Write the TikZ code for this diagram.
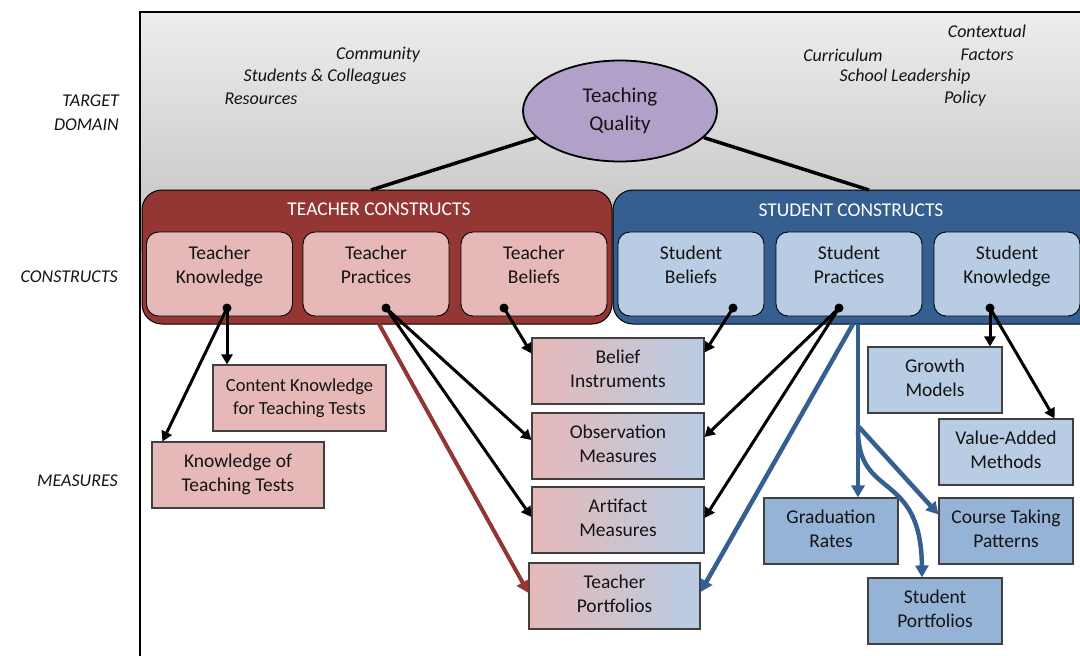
\documentclass[tikz,border=0pt]{standalone}
\usepackage{fontspec}
\setmainfont{Carlito}
\usetikzlibrary{arrows.meta,calc,shapes.geometric}
\definecolor{tred}{HTML}{943634}
\definecolor{tpink}{HTML}{E6B9B8}
\definecolor{sblue}{HTML}{365F91}
\definecolor{lblue}{HTML}{B8CCE4}
\definecolor{mblue}{HTML}{95B3D7}
\definecolor{purp}{HTML}{B1A0C7}
\definecolor{txt}{HTML}{141414}
\tikzset{
  lab/.style={font=\fontsize{18}{22}\selectfont\itshape, text=txt, inner sep=0pt},
  outerbox/.style={draw=black, line width=1pt, rounded corners=20pt},
  innerbox/.style={draw=black, line width=0.9pt, rounded corners=12pt, minimum width=146pt, minimum height=84pt, inner sep=0pt},
  intext/.style={font=\fontsize{19.5}{24}\selectfont, text=txt, align=center, inner sep=0pt},
  meas/.style={draw=black!75, line width=1.1pt, minimum height=66pt, inner sep=0pt, align=center, font=\fontsize{19.5}{24}\selectfont, text=txt},
  dot/.style={circle, fill=black, inner sep=0pt, minimum size=9pt},
  arr/.style={line width=3pt, -{Triangle[length=10pt,width=11pt]}},
  redarr/.style={line width=4pt, draw=tred, -{Triangle[length=12pt,width=13pt]}},
  bluarr/.style={line width=4.5pt, draw=sblue, -{Triangle[length=12pt,width=13pt]}},
}
\begin{document}
\begin{tikzpicture}[x=1pt,y=-1pt]
\useasboundingbox (0,0) rectangle (1080,656);
% background
\shade[top color=black!7, bottom color=black!24] (140,12) rectangle (1080,250);
\draw[line width=1.3pt] (140,656) -- (140,12) -- (1080,12);
% side labels
\node[lab, anchor=east] at (119,101) {TARGET};
\node[lab, anchor=east] at (119,125) {DOMAIN};
\node[lab, anchor=east] at (118,277) {CONSTRUCTS};
\node[lab, anchor=east] at (118,481) {MEASURES};
% context labels
\node[lab] at (378,55) {Community};
\node[lab] at (325,77) {Students \& Colleagues};
\node[lab] at (261,99) {Resources};
\node[lab] at (987,31) {Contextual};
\node[lab] at (987,55) {Factors};
\node[lab] at (843,55) {Curriculum};
\node[lab] at (905,77) {School Leadership};
\node[lab] at (965,99) {Policy};
% construct containers
\draw[outerbox, fill=tred] (142,190) rectangle (612,324);
\draw[outerbox, fill=sblue] (613,190) rectangle (1100,324);
\node[font=\fontsize{19.5}{24}\selectfont, text=white] (tct) at (379,209) {TEACHER CONSTRUCTS};
\node[font=\fontsize{19.5}{24}\selectfont, text=white] (sct) at (851,210) {STUDENT CONSTRUCTS};
\coordinate (tctop) at (371,190);
\coordinate (sctop) at (869,190);
% teaching quality
\node[ellipse, draw=black, line width=1.8pt, fill=purp, minimum width=194pt, minimum height=101pt, inner sep=0pt, align=center, font=\fontsize{21}{28}\selectfont, text=txt] (tq) at (620,111) {Teaching\strut\\Quality\strut};
\draw[line width=3.5pt] (tq) -- (tctop);
\draw[line width=3.5pt] (tq) -- (sctop);
% inner construct boxes
\node[innerbox, fill=tpink] (tk) at (219.5,274) {};
\node[innerbox, fill=tpink] (tp) at (376,274) {};
\node[innerbox, fill=tpink] (tb) at (534,274) {};
\node[innerbox, fill=lblue] (sb) at (691,274) {};
\node[innerbox, fill=lblue] (sp) at (849,274) {};
\node[innerbox, fill=lblue] (sk) at (1007,274) {};
\node[intext] at (219.5,267) {Teacher\strut\\Knowledge\strut};
\node[intext] at (376,267) {Teacher\strut\\Practices\strut};
\node[intext] at (534,267) {Teacher\strut\\Beliefs\strut};
\node[intext] at (691,267) {Student\strut\\Beliefs\strut};
\node[intext] at (849,267) {Student\strut\\Practices\strut};
\node[intext] at (1007,267) {Student\strut\\Knowledge\strut};
% dots
\node[dot] (dtk) at (227,308) {};
\node[dot] (dtp) at (386,308) {};
\node[dot] (dtb) at (504,308) {};
\node[dot] (dsb) at (733,308) {};
\node[dot] (dsp) at (839,308) {};
\node[dot] (dsk) at (990,308) {};
% measures
\node[meas, fill=tpink, minimum width=173pt, font=\fontsize{18.5}{23}\selectfont] (ckt) at (299.5,398) {Content Knowledge\strut\\for Teaching Tests\strut};
\node[meas, fill=tpink, minimum width=172pt] (ktt) at (238,475) {Knowledge of\strut\\Teaching Tests\strut};
\node[meas, left color=tpink, right color=lblue, minimum width=172pt] (bel) at (618,371) {Belief\strut\\Instruments\strut};
\node[meas, left color=tpink, right color=lblue, minimum width=172pt] (obs) at (618,446) {Observation\strut\\Measures\strut};
\node[meas, left color=tpink, right color=lblue, minimum width=172pt] (art) at (618,520) {Artifact\strut\\Measures\strut};
\node[meas, left color=tpink, right color=lblue, minimum width=171pt] (tpf) at (614.5,596) {Teacher\strut\\Portfolios\strut};
\node[meas, fill=lblue, minimum width=134pt] (grw) at (935,380) {Growth\strut\\Models\strut};
\node[meas, fill=lblue, minimum width=134pt] (vam) at (1006,452) {Value-Added\strut\\Methods\strut};
\node[meas, fill=mblue, minimum width=134pt] (grd) at (831,531) {Graduation\strut\\Rates\strut};
\node[meas, fill=mblue, minimum width=134pt] (ctp) at (1006,531) {Course Taking\strut\\Patterns\strut};
\node[meas, fill=mblue, minimum width=134pt] (spf) at (935,611) {Student\strut\\Portfolios\strut};
% black arrows
\draw[arr] (dtk.center) -- (dtk.center |- ckt.north);
\draw[arr] (dtk.center) -- ($(ktt.north west)+(11,0)$);
\draw[arr] (dtp.center) -- ($(obs.west)+(0,-6)$);
\draw[arr] (dtp.center) -- ($(art.west)+(0,-3)$);
\draw[arr] (dtb.center) -- ($(bel.north west)+(0,16)$);
\draw[arr] (dsb.center) -- ($(bel.north east)+(0,15)$);
\draw[arr] (dsp.center) -- ($(obs.east)+(0,-9)$);
\draw[arr] (dsp.center) -- ($(art.east)+(0,-2)$);
\draw[arr] (dsk.center) -- (dsk.center |- grw.north);
\draw[arr] (dsk.center) -- ($(vam.north east)+(-19,0)$);
% coloured arrows
\coordinate (rs) at (379,324);
\coordinate (bs1) at (853,324);
\coordinate (bs2) at (858,324);
\coordinate (bj1) at (859,427);
\coordinate (bj2) at (858,430);
\draw[redarr] (rs) -- ($(tpf.west)+(0,-3)$);
\draw[bluarr] (bs1) -- ($(tpf.east)+(0,-4)$);
\draw[bluarr] (bs2) -- (bs2 |- grd.north);
\draw[bluarr] (bj1) -- ($(ctp.north west)+(0,17)$);
\draw[bluarr] (bj2) .. controls (858,500) and (921,470) .. ($(spf.north)+(-13,0)$);
\end{tikzpicture}
\end{document}
